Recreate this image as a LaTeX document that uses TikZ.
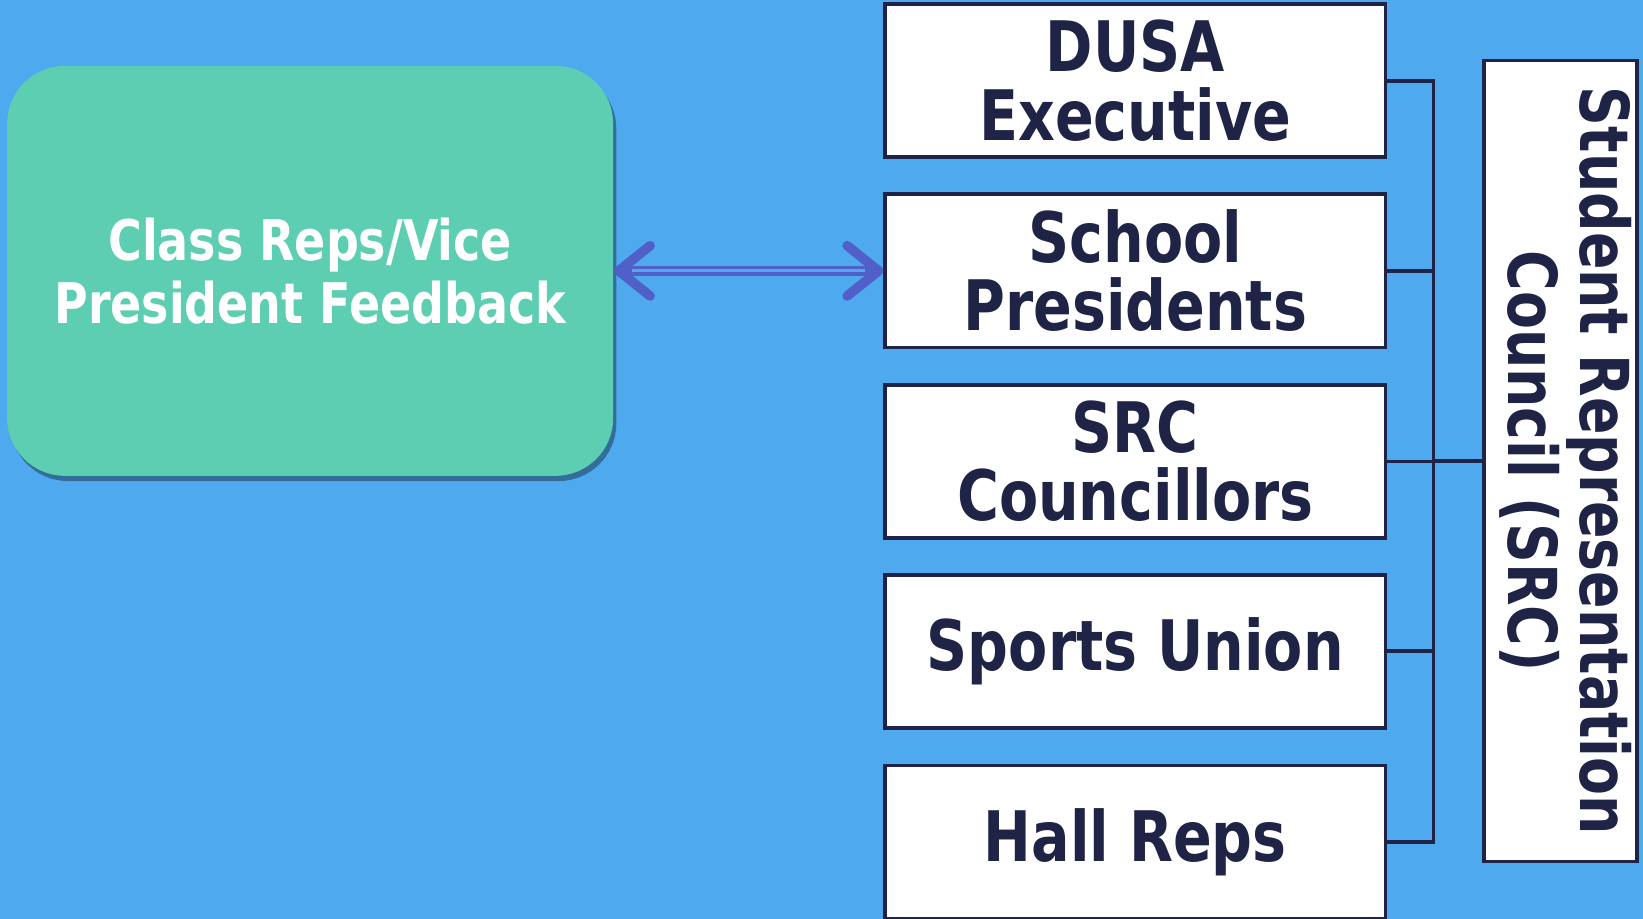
\documentclass[tikz,border=0pt]{standalone}
\usepackage{fontspec}
\usepackage{graphicx}
\setmainfont{DejaVu Sans}[FakeStretch=0.82]
\usetikzlibrary{arrows.meta,shadows}

\definecolor{bgblue}{HTML}{4FA9EE}
\definecolor{feedgreen}{HTML}{5DCEB1}
\definecolor{navy}{HTML}{1F2446}
\definecolor{arrowblue}{HTML}{5060C8}

\begin{document}
\begin{tikzpicture}[x=0.01cm, y=-0.01cm,
    group/.style={draw=navy, line width=1pt, fill=white, text=navy, font=\bfseries\fontsize{18.9}{18.5}\selectfont,
      minimum width=4.77cm, minimum height=1.46cm, inner sep=0pt, align=center},
    link/.style={draw=navy, line width=1pt},
    tip/.style={arrowblue, line width=2.6pt, {Straight Barb[length=0.3cm, width=0.48cm, line cap=round, line join=round]}-{Straight Barb[length=0.3cm, width=0.48cm, line cap=round, line join=round]}},
  ]
          \fill[bgblue] (0, 0) rectangle (1568, 877);
          \useasboundingbox (0, 0) rectangle (1568, 877);
          %
          \node[fill=feedgreen, rounded corners=0.55cm, minimum width=5.78cm, minimum height=3.91cm, text=white,
            align=center, font=\bfseries\fontsize{15.2}{17}\selectfont,
            drop shadow={shadow xshift=0.03cm, shadow yshift=-0.05cm, opacity=0.35, fill=black}] (feedback) at (296, 258.5) {Class Reps/Vice \\ President Feedback};
          %
          \node[group] (dusa) at (1083.5, 77) {DUSA \\ Executive};
          \node[group] (pres) at (1083.5, 258.5) {School \\ Presidents};
          \node[group] (coun) at (1083.5, 440.5) {SRC \\ Councillors};
          \node[group] (sport) at (1083.5, 621.5) {Sports Union};
          \node[group] (hall) at (1083.5, 803.5) {Hall Reps};
          %
          \node[draw=navy, line width=1pt, fill=white, text=navy, minimum width=1.46cm, minimum height=7.64cm, inner sep=0pt] (src) at (1489, 440)
            {\rotatebox{-90}{\fontsize{18.3}{17.9}\selectfont\bfseries\begin{tabular}{@{}c@{}}Student Representation \\ Council (SRC)\end{tabular}}};
          %
          \coordinate (bus) at (1368, 440);
          \foreach \g in {dusa, pres, coun, sport, hall}
            \draw[link] (\g.east) -| (bus);
          \draw[link] (bus) -- (src.west);
          %
          \draw[tip] (feedback.east) -- (pres.west);
          \draw[arrowblue, line width=1pt, double=bgblue, double distance=0.85pt, shorten <=5pt, shorten >=5pt] (feedback.east) -- (pres.west);
\end{tikzpicture}
\end{document}
